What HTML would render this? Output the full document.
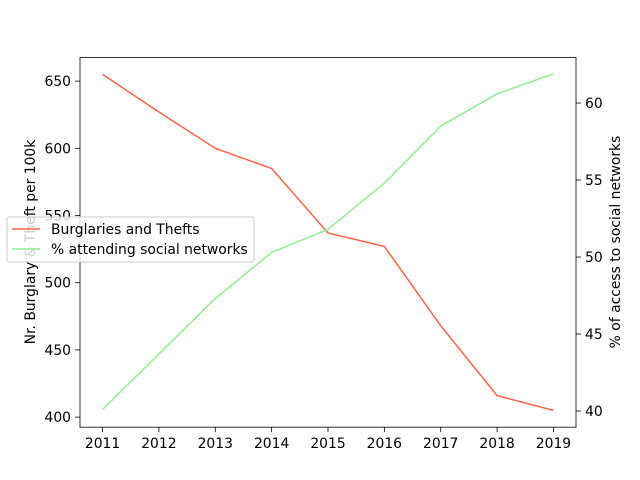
<!DOCTYPE html>
<html><head><meta charset="utf-8"><style>
body{margin:0;background:#fff}
svg{display:block;font-family:"DejaVu Sans","Liberation Sans",sans-serif}
</style></head><body>
<svg id="c" width="640" height="480" xmlns="http://www.w3.org/2000/svg"></svg>
<script>
const years=[2011,2012,2013,2014,2015,2016,2017,2018,2019];
const burglaries=[655,627,600,585,537,527,468,416,405];
const social=[40.1,43.7,47.3,50.3,51.8,54.8,58.5,60.6,61.9];
const leftTicks=[400,450,500,550,600,650];
const rightTicks=[40,45,50,55,60];
const L=80,R=576,T=57.6,B=427.2;
const xs=v=>L+(v-(2011-0.4))/(8.8)*(R-L);
const yl=v=>B-(v-392.5)/(667.5-392.5)*(B-T);
const yr=v=>B-(v-38.95)/(62.95-38.95)*(B-T);
const svg=document.getElementById('c');
const NS='http://www.w3.org/2000/svg';
function mk(t,a,p){const e=document.createElementNS(NS,t);for(const k in a)e.setAttribute(k,a[k]);(p||svg).appendChild(e);return e;}
function line(pts,color,name){
  const e=mk('polyline',{points:pts.join(' '),fill:'none',stroke:color,'stroke-width':1.5});
  
  
}
line(years.map((y,i)=>xs(y)+','+yl(burglaries[i])),'#ff6347','burglaries-line');
line(years.map((y,i)=>xs(y)+','+yr(social[i])),'#90ee90','social-line');
const frame=mk('rect',{x:L,y:T,width:R-L,height:B-T,fill:'none',stroke:'#000','stroke-width':0.8});


years.forEach(y=>{
  const x=xs(y);
  mk('line',{x1:x,x2:x,y1:B,y2:B+4.9,stroke:'#000','stroke-width':0.8});
  const t=mk('text',{x:x,y:B+21,'font-size':13.9,'text-anchor':'middle'});t.textContent=y;
  
  
});
leftTicks.forEach(v=>{
  const y=yl(v);
  mk('line',{x1:L-4.9,x2:L,y1:y,y2:y,stroke:'#000','stroke-width':0.8});
  const t=mk('text',{x:L-9,y:y+5,'font-size':13.9,'text-anchor':'end'});t.textContent=v;
  
  
});
rightTicks.forEach(v=>{
  const y=yr(v);
  mk('line',{x1:R,x2:R+4.9,y1:y,y2:y,stroke:'#000','stroke-width':0.8});
  const t=mk('text',{x:R+9,y:y+5,'font-size':13.9});t.textContent=v;
  
  
});
</script>
<svg style="position:absolute;left:0;top:0" width="640" height="480" xmlns="http://www.w3.org/2000/svg" font-family="DejaVu Sans, Liberation Sans, sans-serif">
<text x="35" y="242" font-size="13.9" text-anchor="middle" transform="rotate(-90 35 242)">Nr. Burglary &amp; Theft per 100k</text>
<text x="620" y="242" font-size="13.9" text-anchor="middle" transform="rotate(-90 620 242)">% of access to social networks</text>
<g>
<rect x="7" y="217" width="247" height="45" rx="2" fill="#fff" fill-opacity="0.8" stroke="#ccc"/>
<line x1="12" x2="40" y1="229" y2="229" stroke="#ff6347" stroke-width="1.5"/>
<text x="51" y="234" font-size="13.9">Burglaries and Thefts</text>
<line x1="12" x2="40" y1="249" y2="249" stroke="#90ee90" stroke-width="1.5"/>
<text x="51" y="254" font-size="13.9">% attending social networks</text>
</g>
</svg>
</body></html>
